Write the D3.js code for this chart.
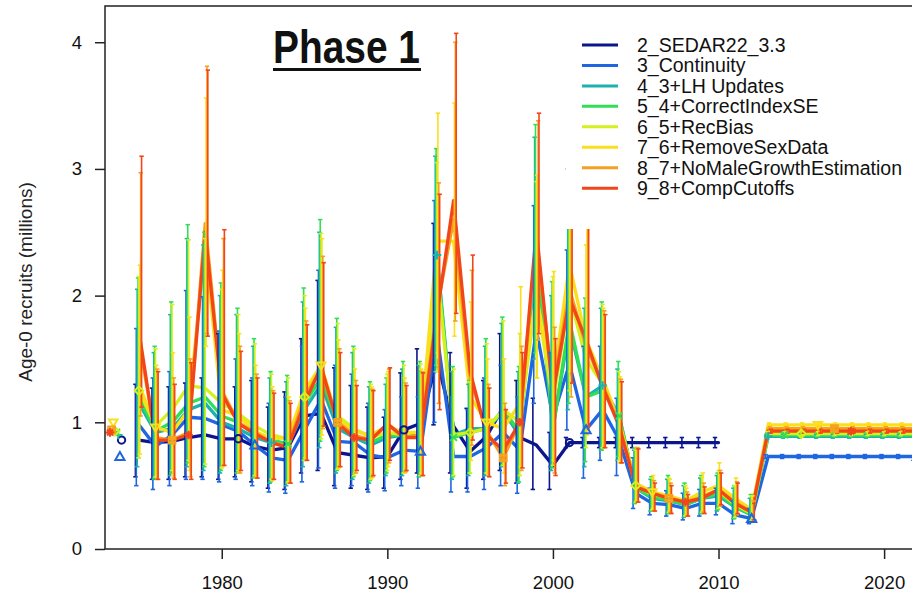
<!DOCTYPE html>
<html><head><meta charset="utf-8">
<script src="https://cdn.jsdelivr.net/npm/d3@7"></script>
<style>
html,body{margin:0;padding:0;background:#fff;}
svg{display:block;font-family:"Liberation Sans",Arial,Helvetica,sans-serif;}
</style></head>
<body>
<svg id="chart" width="912" height="596"></svg>
<script>
// ---------------- DATA ----------------
const years = [1975,1976,1977,1978,1979,1980,1981,1982,1983,1984,
  1985,1986,1987,1988,1989,1990,1991,1992,1993,1994,
  1995,1996,1997,1998,1999,2000,2001,2002,2003,2004,
  2005,2006,2007,2008,2009,2010,2011,2012,2013,2014,
  2015,2016,2017,2018,2019,2020,2021,2022];

const modelNames = ["2_SEDAR22_3.3","3_Continuity","4_3+LH Updates","5_4+CorrectIndexSE",
  "6_5+RecBias","7_6+RemoveSexData","8_7+NoMaleGrowthEstimation","9_8+CompCutoffs"];
const modelColors = ["#0b168c","#1f66e0","#1cb2ad","#30df55","#d4f01e","#fbdf1c","#f5a01f","#f2461a"];

const xTicks = [1980,1990,2000,2010,2020];
const yTicks = [0,1,2,3,4];

// virgin (unfished) recruitment per model
const virginRec = [0.86,0.73,0.90,0.92,0.93,1.00,0.94,0.92];

// 2_SEDAR22_3.3
const sedarVal = [0.86,0.84,0.85,0.88,0.90,0.87,0.87,0.81,0.78,0.80,
  1.05,1.07,0.76,0.74,0.72,0.73,0.94,0.99,1.49,0.97,
  0.77,0.89,1.12,0.88,0.82,0.66,0.84,0.84,0.84,0.84,
  0.84,0.84,0.84,0.84,0.84,0.84,null,null,null,null,
  null,null,null,null,null,null,null,null];
const sedarLo = [0.57,0.55,0.55,0.57,0.57,0.55,0.57,0.53,0.48,0.47,
  0.60,0.62,0.50,0.48,0.47,0.48,0.55,0.60,0.98,0.60,
  0.48,0.55,0.62,0.52,0.47,0.47,0.80,0.80,0.80,0.80,
  0.80,0.80,0.80,0.80,0.80,0.80,null,null,null,null,
  null,null,null,null,null,null,null,null];
const sedarHi = [1.30,1.27,1.28,1.31,1.35,1.70,1.28,1.33,1.12,1.24,
  1.66,2.12,1.43,1.29,1.12,1.04,1.39,1.58,2.57,1.55,
  1.11,1.33,1.70,1.33,1.19,0.92,0.88,0.88,0.88,0.88,
  0.88,0.88,0.88,0.88,0.88,0.88,null,null,null,null,
  null,null,null,null,null,null,null,null];

// 3_Continuity
const contVal = [0.98,0.81,0.90,1.04,1.03,0.98,0.93,0.82,0.72,0.70,
  0.94,1.18,0.85,0.84,0.74,0.72,0.78,0.77,1.70,0.73,
  0.73,0.80,0.92,0.78,1.73,1.04,1.46,0.94,1.10,0.86,
  0.44,0.36,0.35,0.32,0.36,0.36,0.27,0.24,0.73,0.73,
  0.73,0.73,0.73,0.73,0.73,0.73,0.73,0.73];
const contLo = [0.50,0.47,0.50,0.55,0.55,0.53,0.55,0.50,0.45,0.44,
  0.53,0.64,0.48,0.50,0.45,0.46,0.50,0.48,1.00,0.45,
  0.45,0.47,0.50,0.44,1.15,0.65,0.94,0.56,0.70,0.58,
  0.32,0.27,0.26,0.23,0.26,0.27,0.20,0.20,0.715,0.715,
  0.715,0.715,0.715,0.715,0.715,0.715,0.715,0.715];
const contHi = [1.74,1.35,1.40,2.04,1.99,1.72,1.50,1.35,1.15,1.20,
  1.60,2.20,1.45,1.38,1.15,1.10,1.20,1.20,2.75,1.20,
  1.10,1.35,1.45,1.20,2.71,1.55,2.36,1.60,1.60,1.19,
  0.72,0.48,0.46,0.44,0.47,0.48,0.38,0.32,0.745,0.745,
  0.745,0.745,0.745,0.745,0.745,0.745,0.745,0.745];

// 4_3+LH Updates
const lhVal = [1.15,0.92,0.95,1.10,1.15,1.00,0.95,0.88,0.84,0.82,
  1.10,1.30,0.95,0.88,0.82,0.88,0.90,0.90,2.32,0.90,
  0.95,0.95,1.08,0.90,2.30,0.95,1.75,1.20,1.29,1.05,
  0.48,0.40,0.38,0.35,0.40,0.42,0.33,0.27,0.89,0.89,
  0.89,0.89,0.89,0.89,0.89,0.89,0.89,0.89];
const lhLo = [0.65,0.55,0.58,0.65,0.62,0.60,0.60,0.56,0.52,0.50,
  0.65,0.80,0.60,0.55,0.52,0.58,0.58,0.57,1.40,0.55,
  0.58,0.58,0.65,0.52,1.50,0.62,1.10,0.65,0.78,0.70,
  0.36,0.30,0.28,0.25,0.28,0.30,0.24,0.22,0.875,0.875,
  0.875,0.875,0.875,0.875,0.875,0.875,0.875,0.875];
const lhHi = [2.05,1.55,1.85,2.45,2.40,2.00,1.85,1.60,1.35,1.32,
  1.95,2.50,1.75,1.55,1.28,1.30,1.42,1.45,3.10,1.40,
  1.30,1.60,1.78,1.40,3.25,2.00,3.00,1.90,1.90,1.42,
  0.78,0.55,0.55,0.50,0.56,0.58,0.48,0.40,0.905,0.905,
  0.905,0.905,0.905,0.905,0.905,0.905,0.905,0.905];

// 5_4+CorrectIndexSE
const idxVal = [1.20,0.93,1.00,1.15,1.20,1.05,1.00,0.90,0.86,0.83,
  1.15,1.35,1.00,0.90,0.84,0.90,0.90,0.88,2.30,0.88,
  0.92,0.95,1.10,0.92,2.35,0.95,1.80,1.20,1.25,1.05,
  0.48,0.41,0.39,0.35,0.40,0.44,0.33,0.27,0.90,0.90,
  0.90,0.90,0.90,0.90,0.90,0.90,0.90,0.90];
const idxLo = [0.72,0.56,0.60,0.68,0.65,0.62,0.60,0.57,0.53,0.52,
  0.70,0.85,0.62,0.57,0.54,0.60,0.60,0.58,1.45,0.57,
  0.60,0.60,0.66,0.53,1.55,0.64,1.15,0.69,0.78,0.73,
  0.36,0.30,0.28,0.26,0.28,0.31,0.24,0.22,0.885,0.885,
  0.885,0.885,0.885,0.885,0.885,0.885,0.885,0.885];
const idxHi = [2.14,1.60,1.95,2.56,2.50,2.10,1.90,1.66,1.40,1.37,
  2.06,2.60,1.82,1.60,1.32,1.35,1.48,1.48,3.16,1.44,
  1.33,1.66,1.83,1.44,3.35,2.11,3.10,1.98,1.95,1.48,
  0.80,0.57,0.58,0.52,0.58,0.60,0.50,0.43,0.915,0.915,
  0.915,0.915,0.915,0.915,0.915,0.915,0.915,0.915];

// 6_5+RecBias
const biasVal = [1.25,0.97,1.10,1.29,1.27,1.15,1.07,0.97,0.90,0.87,
  1.20,1.40,1.05,0.95,0.88,0.92,0.90,0.88,2.20,0.90,
  0.92,0.95,1.10,1.00,2.00,1.15,2.00,1.50,1.30,1.00,
  0.50,0.43,0.41,0.38,0.42,0.46,0.35,0.28,0.91,0.91,
  0.91,0.91,0.91,0.91,0.91,0.91,0.91,0.91];
const biasLo = [0.72,0.57,0.62,0.70,0.67,0.64,0.62,0.58,0.55,0.53,
  0.70,0.87,0.63,0.58,0.55,0.62,0.60,0.58,1.40,0.58,
  0.60,0.60,0.66,0.58,1.35,0.66,1.25,0.80,0.80,0.70,
  0.37,0.31,0.29,0.26,0.29,0.32,0.25,0.22,0.895,0.895,
  0.895,0.895,0.895,0.895,0.895,0.895,0.895,0.895];
const biasHi = [2.15,1.58,1.93,2.44,2.45,2.05,1.85,1.62,1.38,1.35,
  2.00,2.49,1.78,1.58,1.30,1.38,1.45,1.46,3.05,1.42,
  1.32,1.62,1.80,1.70,2.90,2.15,3.20,2.40,1.93,1.40,
  0.78,0.56,0.56,0.50,0.57,0.62,0.50,0.42,0.925,0.925,
  0.925,0.925,0.925,0.925,0.925,0.925,0.925,0.925];

// 7_6+RemoveSexData
const sexVal = [1.30,0.96,0.92,1.10,2.40,1.10,1.05,0.93,0.87,0.88,
  1.25,1.45,1.02,0.93,0.90,0.97,0.92,0.92,2.43,2.43,
  1.20,1.00,0.95,1.15,2.00,1.30,2.25,1.65,1.35,1.00,
  0.52,0.45,0.42,0.38,0.45,0.50,0.40,0.31,0.98,0.98,
  0.98,0.98,0.98,0.98,0.98,0.98,0.98,0.98];
const sexLo = [0.75,0.57,0.58,0.62,1.60,0.65,0.60,0.56,0.54,0.52,
  0.72,0.90,0.64,0.60,0.56,0.65,0.60,0.60,1.55,1.68,
  0.70,0.60,0.60,0.65,1.35,0.70,1.40,0.90,0.80,0.68,
  0.38,0.32,0.30,0.27,0.30,0.35,0.28,0.23,0.965,0.965,
  0.965,0.965,0.965,0.965,0.965,0.965,0.965,0.965];
const sexHi = [2.24,1.45,1.55,1.83,3.56,2.20,1.70,1.45,1.28,1.20,
  1.90,2.45,1.65,1.42,1.28,1.40,1.35,1.42,3.44,3.52,
  1.95,1.50,1.50,2.07,2.95,2.19,3.50,2.75,1.90,1.36,
  0.80,0.58,0.55,0.48,0.60,0.68,0.56,0.42,0.995,0.995,
  0.995,0.995,0.995,0.995,0.995,0.995,0.995,0.995];

// 8_7+NoMaleGrowthEstimation
const growVal = [1.65,0.88,0.86,0.92,2.57,1.25,1.00,0.92,0.84,0.81,
  1.20,1.42,1.00,0.90,0.86,0.98,0.88,0.90,1.90,2.60,
  1.35,0.93,0.72,1.00,2.45,1.25,2.05,1.60,1.30,0.98,
  0.50,0.44,0.40,0.37,0.41,0.47,0.37,0.29,0.95,0.95,
  0.95,0.95,0.95,0.95,0.95,0.95,0.95,0.95];
const growLo = [1.05,0.55,0.56,0.57,1.70,0.66,0.60,0.56,0.55,0.52,
  0.70,0.95,0.65,0.60,0.57,0.68,0.61,0.58,1.15,1.80,
  0.82,0.58,0.50,0.62,1.65,0.60,1.20,0.95,0.80,0.68,
  0.37,0.30,0.29,0.26,0.29,0.34,0.27,0.23,0.935,0.935,
  0.935,0.935,0.935,0.935,0.935,0.935,0.935,0.935];
const growHi = [2.97,1.42,1.35,1.50,3.81,2.45,1.60,1.38,1.25,1.17,
  1.80,2.31,1.58,1.33,1.26,1.42,1.31,1.40,2.89,4.00,
  2.20,1.30,1.15,1.60,3.38,1.75,3.20,2.90,1.88,1.34,
  0.80,0.54,0.52,0.45,0.52,0.62,0.53,0.38,0.965,0.965,
  0.965,0.965,0.965,0.965,0.965,0.965,0.965,0.965];

// 9_8+CompCutoffs
const compVal = [1.72,0.86,0.86,0.90,2.50,1.23,0.99,0.91,0.84,0.80,
  1.15,1.44,0.99,0.88,0.86,0.99,0.88,0.88,1.85,2.75,
  1.40,0.90,0.78,1.00,2.52,1.22,1.98,1.65,1.28,0.97,
  0.49,0.44,0.40,0.37,0.40,0.47,0.36,0.29,0.93,0.93,
  0.93,0.93,0.93,0.93,0.93,0.93,0.93,0.93];
const compLo = [1.12,0.55,0.55,0.55,1.68,0.66,0.62,0.56,0.55,0.52,
  0.70,0.97,0.65,0.62,0.58,0.70,0.62,0.58,1.10,1.86,
  0.86,0.57,0.52,0.64,1.70,0.58,1.31,0.97,0.80,0.68,
  0.37,0.30,0.28,0.26,0.28,0.35,0.28,0.23,0.915,0.915,
  0.915,0.915,0.915,0.915,0.915,0.915,0.915,0.915];
const compHi = [3.10,1.40,1.30,1.47,3.78,2.52,1.56,1.35,1.23,1.15,
  1.77,2.26,1.55,1.29,1.25,1.43,1.29,1.39,2.80,4.07,
  2.32,1.27,1.10,1.55,3.44,1.66,3.10,3.00,1.85,1.32,
  0.79,0.52,0.50,0.43,0.49,0.60,0.52,0.36,0.945,0.945,
  0.945,0.945,0.945,0.945,0.945,0.945,0.945,0.945];

const seriesVal = [sedarVal,contVal,lhVal,idxVal,biasVal,sexVal,growVal,compVal];
const seriesLo  = [sedarLo,contLo,lhLo,idxLo,biasLo,sexLo,growLo,compLo];
const seriesHi  = [sedarHi,contHi,lhHi,idxHi,biasHi,sexHi,growHi,compHi];

// ---------------- LAYOUT ----------------
const svg = d3.select("#chart");
const L = 105, T = 6, B = 549;
const x = d3.scaleLinear().domain([1972.95, 2022.3]).range([L, 922.2]);
const y = d3.scaleLinear().domain([0, 4.286]).range([B, T]);

svg.append("defs").append("clipPath").attr("id","plotclip")
  .append("rect").attr("x",L).attr("y",T).attr("width",900).attr("height",B-T);

const plot = svg.append("g").attr("clip-path","url(#plotclip)");

const models = modelNames.map((name,i)=>({
  name, color: modelColors[i], i,
  pts: years.map((yr,k)=>({yr, v: seriesVal[i][k], lo: seriesLo[i][k], hi: seriesHi[i][k]}))
              .filter(d=>d.v!=null)
}));

// lines
const line = d3.line().x(d=>x(d.yr)).y(d=>y(d.v));
models.forEach(m=>{
  plot.append("path").datum(m.pts).attr("d",line)
    .attr("fill","none").attr("stroke",m.color).attr("stroke-width",3.3)
    .attr("stroke-linejoin","round").attr("stroke-linecap","round");
});

// error bars (staggered per model)
models.forEach(m=>{
  const off = (m.i - 4) * 0.053;
  const g = plot.append("g").attr("stroke",m.color).attr("stroke-width",1.6).attr("fill","none");
  m.pts.forEach(d=>{
    const xx = x(d.yr + off);
    g.append("line").attr("x1",xx).attr("x2",xx).attr("y1",y(d.lo)).attr("y2",y(d.hi));
    g.append("line").attr("x1",xx-2.2).attr("x2",xx+2.2).attr("y1",y(d.lo)).attr("y2",y(d.lo));
    g.append("line").attr("x1",xx-2.2).attr("x2",xx+2.2).attr("y1",y(d.hi)).attr("y2",y(d.hi));
  });
});

// point symbols (R pch 1..8)
const pchPaths = [
  null,
  "M0,-4.6L4.6,3.4L-4.6,3.4Z",
  "M-4.3,0H4.3M0,-4.3V4.3",
  "M-3.4,-3.4L3.4,3.4M-3.4,3.4L3.4,-3.4",
  "M0,-4.3L4.3,0L0,4.3L-4.3,0Z",
  "M-4.3,-2.8L4.3,-2.8L0,4.3Z",
  "M-3.4,-3.4H3.4V3.4H-3.4ZM-3.4,-3.4L3.4,3.4M-3.4,3.4L3.4,-3.4",
  "M-4.3,0H4.3M0,-4.3V4.3M-3,-3L3,3M-3,3L3,-3"
];
function symbolPath(i){
  if(i===0) return d3.symbol(d3.symbolCircle, 42)();
  return pchPaths[i];
}
const marks = svg.append("g");
models.forEach(m=>{
  const sel = m.pts.filter(d=> ((d.yr - 1981 - m.i) % 10 + 10) % 10 === 0);
  sel.forEach(d=>{
    marks.append("path").attr("d",symbolPath(m.i))
      .attr("transform",`translate(${x(d.yr)},${y(d.v)})`)
      .attr("fill","none").attr("stroke",m.color).attr("stroke-width",2);
  });
  // virgin recruitment
  marks.append("path").attr("d",symbolPath(m.i))
    .attr("transform",`translate(${x(1973.95 - 0.1*m.i)},${y(virginRec[m.i])})`)
    .attr("fill","none").attr("stroke",m.color).attr("stroke-width",2);
});

// box
svg.append("rect").attr("x",L).attr("y",T).attr("width",922.2-L).attr("height",B-T)
  .attr("fill","none").attr("stroke","#222").attr("stroke-width",1.5);

// axes
const xAxis = svg.append("g").attr("transform",`translate(0,${B})`)
  .call(d3.axisBottom(x).tickValues(xTicks).tickFormat(d3.format("d")).tickSize(10).tickPadding(17));
const yAxis = svg.append("g").attr("transform",`translate(${L},0)`)
  .call(d3.axisLeft(y).tickValues(yTicks).tickFormat(d3.format("d")).tickSize(10).tickPadding(13));
[xAxis,yAxis].forEach(a=>{
  a.select(".domain").remove();
  a.selectAll(".tick line").attr("stroke","#222").attr("stroke-width",1.5);
  a.selectAll(".tick text").attr("font-size","18.5px").attr("fill","#111")
    .attr("font-family","'Liberation Sans',Arial,sans-serif");
});

// y-axis title
svg.append("text").attr("transform","translate(31.5,282) rotate(-90)")
  .attr("text-anchor","middle").attr("font-size","19px").attr("fill","#222")
  .text("Age-0 recruits (millions)");

// title
svg.append("text").attr("x",273).attr("y",63)
  .attr("font-size","46px").attr("font-weight","bold")
  .attr("font-family","'Liberation Sans Narrow','Arial Narrow','Liberation Sans',Arial,sans-serif")
  .attr("textLength",147).attr("lengthAdjust","spacingAndGlyphs")
  .attr("fill","#111").text("Phase 1");
svg.append("rect").attr("x",273).attr("y",68).attr("width",148).attr("height",3).attr("fill","#111");

// legend
const leg = svg.append("g");
leg.append("rect").attr("x",566).attr("y",28).attr("width",360).attr("height",201)
  .attr("fill","#fff");
models.forEach((m,i)=>{
  const yy = 45 + i*20.45;
  leg.append("line").attr("x1",582).attr("x2",618).attr("y1",yy).attr("y2",yy)
    .attr("stroke",m.color).attr("stroke-width",3);
  leg.append("text").attr("x",637).attr("y",yy+7).attr("font-size","19.5px").attr("fill","#111")
    .text(m.name);
});
</script>
</body></html>
